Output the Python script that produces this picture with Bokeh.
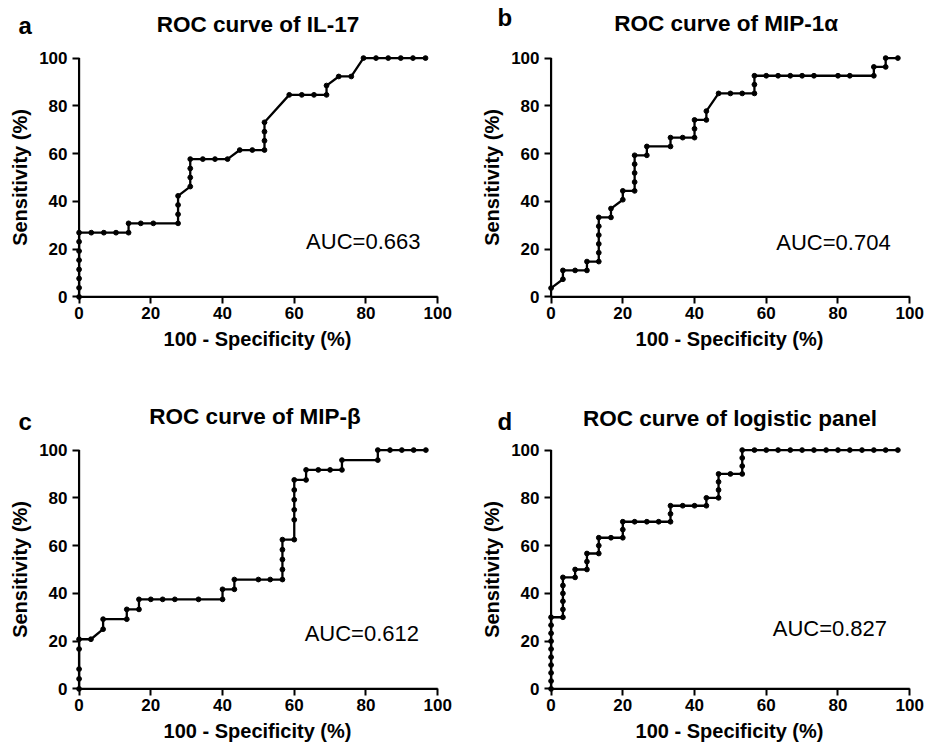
from bokeh.plotting import figure
from bokeh.layouts import column, row
from bokeh.models import Range1d, FixedTicker, Label
from bokeh.core.properties import value
from bokeh.embed import file_html
from bokeh.resources import INLINE

FONT = "Liberation Sans"

# ---------------- data (100 - specificity %, sensitivity %) ----------------
# a: IL-17
a_x = [0, 0, 0, 0, 0, 0, 0, 0,
       3.4, 6.9, 10.3, 13.8, 13.8, 17.2, 20.7, 27.6, 27.6, 27.6, 27.6,
       31.0, 31.0, 31.0, 31.0, 34.5, 37.9, 41.4, 44.8, 48.3, 51.7, 51.7, 51.7, 51.7,
       58.6, 62.1, 65.5, 69.0, 69.0, 72.4, 75.9, 79.3, 82.8, 86.2, 89.7, 93.1, 96.6]
a_y = [0, 3.8, 7.7, 11.5, 15.4, 19.2, 23.1, 26.9,
       26.9, 26.9, 26.9, 26.9, 30.8, 30.8, 30.8, 30.8, 34.6, 38.5, 42.3,
       46.2, 50.0, 53.8, 57.7, 57.7, 57.7, 57.7, 61.5, 61.5, 61.5, 65.4, 69.2, 73.1,
       84.6, 84.6, 84.6, 84.6, 88.5, 92.3, 92.3, 100, 100, 100, 100, 100, 100]

# b: MIP-1alpha
b_x = [0, 3.3, 3.3, 6.7, 10.0, 10.0, 13.3, 13.3, 13.3, 13.3, 13.3, 13.3,
       16.7, 16.7, 20.0, 20.0, 23.3, 23.3, 23.3, 23.3, 23.3, 26.7, 26.7,
       33.3, 33.3, 36.7, 40.0, 40.0, 40.0, 43.3, 43.3, 46.7, 50.0, 53.3,
       56.7, 56.7, 56.7, 60.0, 63.3, 66.7, 70.0, 73.3, 80.0, 83.3, 90.0, 90.0,
       93.3, 93.3, 96.7]
b_y = [3.7, 7.4, 11.1, 11.1, 11.1, 14.8, 14.8, 18.5, 22.2, 25.9, 29.6, 33.3,
       33.3, 37.0, 40.7, 44.4, 44.4, 48.1, 51.9, 55.6, 59.3, 59.3, 63.0,
       63.0, 66.7, 66.7, 66.7, 70.4, 74.1, 74.1, 77.8, 85.2, 85.2, 85.2,
       85.2, 88.9, 92.6, 92.6, 92.6, 92.6, 92.6, 92.6, 92.6, 92.6, 92.6, 96.3,
       96.3, 100, 100]

# c: MIP-beta
c_x = [0, 0, 0, 0, 0, 3.3, 6.7, 6.7, 13.3, 13.3, 16.7, 16.7,
       20.0, 23.3, 26.7, 33.3, 40.0, 40.0, 43.3, 43.3, 50.0, 53.3,
       56.7, 56.7, 56.7, 56.7, 56.7, 60.0, 60.0, 60.0, 60.0, 60.0, 60.0,
       63.3, 63.3, 66.7, 70.0, 73.3, 73.3, 83.3, 83.3, 86.7, 90.0, 93.3, 96.7]
c_y = [0, 4.2, 8.3, 16.7, 20.8, 20.8, 25.0, 29.2, 29.2, 33.3, 33.3, 37.5,
       37.5, 37.5, 37.5, 37.5, 37.5, 41.7, 41.7, 45.8, 45.8, 45.8,
       45.8, 50.0, 54.2, 58.3, 62.5, 62.5, 70.8, 75.0, 79.2, 83.3, 87.5,
       87.5, 91.7, 91.7, 91.7, 91.7, 95.8, 95.8, 100, 100, 100, 100, 100]

# d: logistic panel
d_x = [0, 0, 0, 0, 0, 0, 0, 0, 0, 0,
       3.3, 3.3, 3.3, 3.3, 3.3, 3.3, 6.7, 6.7, 10.0, 10.0, 10.0,
       13.3, 13.3, 13.3, 16.7, 20.0, 20.0, 20.0, 23.3, 26.7, 30.0, 33.3, 33.3, 33.3,
       36.7, 40.0, 43.3, 43.3, 46.7, 46.7, 46.7, 46.7, 50.0, 53.3, 53.3, 53.3, 53.3,
       56.7, 60.0, 63.3, 66.7, 70.0, 73.3, 76.7, 80.0, 83.3, 86.7, 90.0, 93.3, 96.7]
d_y = [0, 3.3, 6.7, 10.0, 13.3, 16.7, 20.0, 23.3, 26.7, 30.0,
       30.0, 33.3, 36.7, 40.0, 43.3, 46.7, 46.7, 50.0, 50.0, 53.3, 56.7,
       56.7, 60.0, 63.3, 63.3, 63.3, 66.7, 70.0, 70.0, 70.0, 70.0, 70.0, 73.3, 76.7,
       76.7, 76.7, 76.7, 80.0, 80.0, 83.3, 86.7, 90.0, 90.0, 90.0, 93.3, 96.7, 100,
       100, 100, 100, 100, 100, 100, 100, 100, 100, 100, 100, 100, 100]

titles = ["ROC curve of IL-17", "ROC curve of MIP-1\u03b1",
          "ROC curve of MIP-\u03b2", "ROC curve of logistic panel"]
letters = ["a", "b", "c", "d"]
auc_texts = ["AUC=0.663", "AUC=0.704", "AUC=0.612", "AUC=0.827"]
auc_pos = [(63.3, 23.4), (62.8, 22.8), (62.9, 23.1), (61.8, 25.3)]
tick_values = [0, 20, 40, 60, 80, 100]
x_label = "100 - Specificity (%)"
y_label = "Sensitivity (%)"

AX_MIN, AX_MAX = 0, 100
PAGE_W = 925


def make_header(top, bottom, ttl, letter_txt, title_cx, title_by, letter_lx, letter_by):
    h = figure(width=PAGE_W, height=bottom - top, x_range=Range1d(0, PAGE_W),
               y_range=Range1d(bottom, top), output_backend="svg",
               toolbar_location=None, x_axis_type=None, y_axis_type=None,
               min_border=0, title=None)
    h.outline_line_color = None
    h.xgrid.visible = False
    h.ygrid.visible = False
    h.text(x=title_cx, y=title_by, text=ttl, text_font=value(FONT),
           text_font_size="22.5px", text_font_style="bold", text_color="black",
           text_align="center", text_baseline="alphabetic")
    h.text(x=letter_lx, y=letter_by, text=letter_txt, text_font=value(FONT),
           text_font_size="24px", text_font_style="bold", text_color="black",
           text_align="left", text_baseline="alphabetic")
    return h


def make_panel(xs, ys, auc, auc_xy, left, right, top, bottom):
    frame_w, frame_h = 364, 246
    p = figure(width=left + frame_w + right, height=top + frame_h + bottom,
               x_range=Range1d(-1.0, 100.5), y_range=Range1d(-1.5, 101.5),
               output_backend="svg", toolbar_location=None, title=None,
               min_border_left=left, min_border_right=right,
               min_border_top=top, min_border_bottom=bottom)
    p.outline_line_color = None
    p.xgrid.visible = False
    p.ygrid.visible = False
    p.background_fill_color = "white"
    p.border_fill_color = "white"

    for ax in (p.xaxis, p.yaxis):
        ax.ticker = FixedTicker(ticks=tick_values)
        ax.axis_line_color = None
        ax.major_tick_in = 4
        ax.major_tick_out = 3
        ax.major_tick_line_width = 2
        ax.major_tick_line_color = "black"
        ax.minor_tick_line_color = None
        ax.major_label_text_font = FONT
        ax.major_label_text_font_size = "17px"
        ax.major_label_text_font_style = "bold"
        ax.major_label_text_color = "black"
        ax.axis_label_text_font = FONT
        ax.axis_label_text_font_size = "20px"
        ax.axis_label_text_font_style = "bold"
        ax.axis_label_text_color = "black"
    p.xaxis.axis_label = x_label
    p.yaxis.axis_label = y_label
    p.xaxis.major_label_standoff = 3
    p.xaxis.axis_label_standoff = 6
    p.yaxis.major_label_standoff = 5
    p.yaxis.axis_label_standoff = 5

    # axis lines at data zero
    p.segment(x0=[AX_MIN, AX_MIN], y0=[AX_MIN, AX_MIN], x1=[AX_MAX, AX_MIN], y1=[AX_MIN, AX_MAX],
              line_color="black", line_width=2.2)

    p.line(xs, ys, line_color="black", line_width=2.3)
    p.scatter(xs, ys, size=4.8, color="black")

    p.add_layout(Label(x=auc_xy[0], y=auc_xy[1], text=auc, text_font=FONT,
                       text_font_size="22px", text_color="black",
                       text_align="left", text_baseline="alphabetic"))
    return p


# headers with panel titles and letters (page-pixel positions)
h1 = make_header(0, 40, [titles[0], titles[1]], [letters[0], letters[1]],
                 [257.5, 725.7], [24, 23], [18, 497], [25, 17])
h2 = make_header(392, 440, [titles[2], titles[3]], [letters[2], letters[3]],
                 [254.5, 729.5], [416, 418], [18, 497], [421, 421])

pa = make_panel(a_x, a_y, auc_texts[0], auc_pos[0], 75, 31, 14, 92)
pb = make_panel(b_x, b_y, auc_texts[1], auc_pos[1], 77, 14, 14, 92)
pc = make_panel(c_x, c_y, auc_texts[2], auc_pos[2], 75, 31, 6, 52)
pd = make_panel(d_x, d_y, auc_texts[3], auc_pos[3], 77, 14, 6, 52)

layout = column(h1, row(pa, pb), h2, row(pc, pd))

open("out.html", "w").write(file_html(layout, INLINE))
